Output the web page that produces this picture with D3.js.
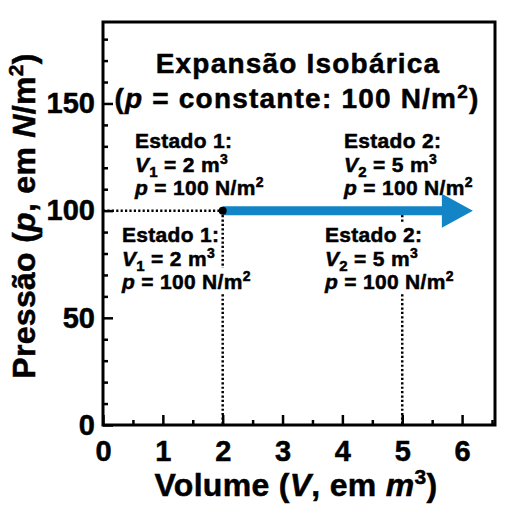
<!DOCTYPE html>
<html lang="pt">
  <head>
    <meta charset="utf-8">
    <title>Expansão Isobárica</title>
    <script src="https://d3js.org/d3.v7.min.js"></script>
    <style>
      body { margin: 0; background: #fff; }
      text { font-family: "Liberation Sans", Arial, sans-serif; font-weight: bold; fill: #000; stroke: #000; stroke-width: 0.5; }
    </style>
  </head>

  <body>
  <script>

  // values
  var xDomain = [0, 6.55];
  var yDomain = [0, 188];
  var xMajor = [0, 1, 2, 3, 4, 5, 6];
  var xMinor = [0.5, 1.5, 2.5, 3.5, 4.5, 5.5, 6.5];
  var yMajor = [0, 50, 100, 150];
  var yMinor = [10, 20, 30, 40, 60, 70, 80, 90, 110, 120, 130, 140, 160, 170, 180];
  var stateNames = ["Estado 1:", "Estado 2:"];
  var volumes = [2, 5];
  var pressures = [100, 100];
  var arrowEnd = 6.18;

  var w = 512;
  var h = 512;
  var margin = {top: 22, right: 17, bottom: 87, left: 103};
  var innerWidth = w - margin.left - margin.right;
  var innerHeight = h - margin.top - margin.bottom;

  var svg = d3.select("body")
    .append("svg")
      .attr("width", w)
      .attr("height", h);

  var xScale = d3.scaleLinear().domain(xDomain).range([0, innerWidth]);
  var yScale = d3.scaleLinear().domain(yDomain).range([innerHeight, 0]);

  var g = svg.append("g")
      .attr("transform", `translate(${margin.left}, ${margin.top})`);

  // minor ticks (no labels)
  g.append("g")
      .attr("transform", `translate(0, ${innerHeight})`)
      .call(d3.axisBottom(xScale).tickValues(xMinor).tickSize(-5))
      .call(s => s.select(".domain").remove())
      .call(s => s.selectAll("text").remove());
  g.append("g")
      .call(d3.axisLeft(yScale).tickValues(yMinor).tickSize(-5))
      .call(s => s.select(".domain").remove())
      .call(s => s.selectAll("text").remove());

  // major ticks + labels
  var xAxis = g.append("g")
      .attr("transform", `translate(0, ${innerHeight})`)
      .call(d3.axisBottom(xScale).tickValues(xMajor).tickSize(-10).tickPadding(15).tickFormat(d3.format("d")));
  var yAxis = g.append("g")
      .call(d3.axisLeft(yScale).tickValues(yMajor).tickSize(-10).tickPadding(8).tickFormat(d3.format("d")));

  [xAxis, yAxis].forEach(a => {
    a.select(".domain").remove();
    a.selectAll("text").attr("font-size", 29).attr("font-family", null).attr("fill", null);
  });
  g.selectAll(".tick line").attr("stroke", "#000").attr("stroke-width", 2.5);

  // frame
  g.append("rect")
      .attr("width", innerWidth)
      .attr("height", innerHeight)
      .attr("fill", "none")
      .attr("stroke", "#000")
      .attr("stroke-width", 3);

  // dotted guide lines
  function guide(x1, y1, x2, y2) {
    g.append("line")
      .attr("x1", xScale(x1)).attr("y1", yScale(y1))
      .attr("x2", xScale(x2)).attr("y2", yScale(y2))
      .attr("stroke", "#000")
      .attr("stroke-width", 2.5)
      .attr("stroke-dasharray", "2.2,2.2");
  }
  guide(0, pressures[0], volumes[0], pressures[0]);
  guide(volumes[0], pressures[0], volumes[0], 0);
  guide(volumes[1], pressures[1], volumes[1], 0);

  // annotation blocks
  function block(x, y, i, withBg) {
    var blk = svg.append("g").attr("transform", `translate(${x}, ${y})`);
    var lines = [];
    lines.push(blk.append("text").attr("y", 0).text(stateNames[i]));

    var t2 = blk.append("text").attr("y", 24);
    t2.append("tspan").attr("font-style", "italic").text("V");
    t2.append("tspan").attr("font-size", 15).attr("dy", 5).text(i + 1);
    t2.append("tspan").attr("font-size", 21).attr("dy", -5).text(" = " + volumes[i] + " m");
    t2.append("tspan").attr("font-size", 14).attr("dy", -8).text("3");
    lines.push(t2);

    var t3 = blk.append("text").attr("y", 47);
    t3.append("tspan").attr("font-style", "italic").text("p");
    t3.append("tspan").text(" = " + pressures[i] + " N/m");
    t3.append("tspan").attr("font-size", 14).attr("dy", -8).text("2");
    lines.push(t3);

    lines.forEach(t => t.attr("font-size", 21).attr("letter-spacing", 0.3));

    if (withBg) {
      lines.forEach(t => {
        var b = t.node().getBBox();
        blk.insert("rect", "text")
          .attr("x", b.x).attr("y", b.y)
          .attr("width", b.width).attr("height", b.height)
          .attr("fill", "#fff");
      });
    }
  }
  block(122, 242, 0, true);
  block(325, 242, 1, true);
  block(135, 148, 0, false);
  block(344, 148, 1, false);

  // arrow
  var ax1 = xScale(volumes[0]) + margin.left;
  var ax2 = xScale(arrowEnd) + margin.left;
  var ay = yScale(pressures[0]) + margin.top;
  svg.append("line")
      .attr("x1", ax1).attr("y1", ay)
      .attr("x2", ax2 - 25).attr("y2", ay)
      .attr("stroke", "#1384c6")
      .attr("stroke-width", 9);
  svg.append("path")
      .attr("d", `M${ax2},${ay} L${ax2 - 31},${ay - 17} L${ax2 - 31},${ay + 17} Z`)
      .attr("fill", "#1384c6");
  svg.append("circle")
      .attr("cx", ax1).attr("cy", ay).attr("r", 4)
      .attr("fill", "#000");

  // title
  var title = svg.append("text")
      .attr("text-anchor", "middle")
      .attr("font-size", 28)
      .attr("letter-spacing", 1.2);
  title.append("tspan").attr("x", 298).attr("y", 73).text("Expansão Isobárica");
  var tl2 = title.append("tspan").attr("x", 297).attr("y", 108);
  tl2.append("tspan").text("(");
  tl2.append("tspan").attr("font-style", "italic").text("p");
  tl2.append("tspan").text(" = constante: 100 N/m");
  tl2.append("tspan").attr("font-size", 19).attr("dy", -10).text("2");
  tl2.append("tspan").attr("dy", 10).text(")");

  // axis labels
  var xl = svg.append("text")
      .attr("x", 296).attr("y", 496)
      .attr("text-anchor", "middle")
      .attr("font-size", 32)
      .attr("letter-spacing", 0.3);
  xl.append("tspan").text("Volume (");
  xl.append("tspan").attr("font-style", "italic").text("V");
  xl.append("tspan").text(", em ");
  xl.append("tspan").attr("font-style", "italic").text("m");
  xl.append("tspan").attr("font-size", 21).attr("dy", -12).text("3");
  xl.append("tspan").attr("dy", 12).text(")");

  var yl = svg.append("text")
      .attr("transform", "translate(35, 216) rotate(-90)")
      .attr("text-anchor", "middle")
      .attr("font-size", 32)
      .attr("letter-spacing", 0.3);
  yl.append("tspan").text("Pressão (");
  yl.append("tspan").attr("font-style", "italic").text("p");
  yl.append("tspan").text(", em ");
  yl.append("tspan").attr("font-style", "italic").text("N");
  yl.append("tspan").text("/m");
  yl.append("tspan").attr("font-size", 21).attr("dy", -12).text("2");
  yl.append("tspan").attr("dy", 12).text(")");

  </script>
  </body>
</html>
